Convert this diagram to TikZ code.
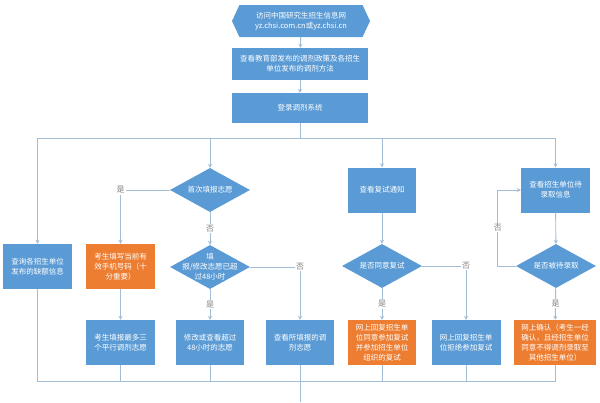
\documentclass[tikz,border=0pt]{standalone}
\usepackage{fontspec}
\setmainfont{Noto Sans CJK SC}
\usetikzlibrary{shapes.geometric,shapes.symbols,positioning,arrows.meta}
\definecolor{boxblue}{HTML}{5B9BD5}
\definecolor{boxorange}{HTML}{ED7D31}
\definecolor{linegrey}{HTML}{A3BDD6}
\tikzset{
  blk/.style = {fill=boxblue, text=white, minimum width=68pt, minimum height=45pt,
                inner sep=1pt, align=center, font=\fontsize{7.5}{10}\selectfont},
  oblk/.style = {blk, fill=boxorange},
  dec/.style = {diamond, fill=boxblue, minimum width=80pt, minimum height=44pt, inner sep=0pt},
  dtxt/.style = {text=white, align=center, font=\fontsize{7.5}{10}\selectfont},
  conn/.style = {draw=linegrey, line width=0.9pt},
  arr/.style = {conn, -{Stealth[length=4pt,width=4pt]}},
  lbl/.style = {fill=white, text=gray, inner sep=1pt, font=\fontsize{8}{9}\selectfont}
}
\begin{document}
\begin{tikzpicture}[x=1pt, y=-1pt]
    \useasboundingbox[fill=white] (0,0) rectangle (600,402);
    % top of the chart
    \node[blk, signal, signal to=west and east, signal pointer angle=130,
          minimum width=138pt, minimum height=32pt] (site) at (301,21)
          {访问中国研究生招生信息网\\yz.chsi.com.cn或yz.chsi.cn};
    \node[blk, minimum width=136pt, minimum height=32pt] (policy) at (300,64)
          {查看教育部发布的调剂政策及各招生\\单位发布的调剂方法};
    \node[blk, minimum width=136pt, minimum height=30pt] (login) at (300,108) {登录调剂系统};
    \coordinate (split) at (300,138);
    % first row
    \node[blk, minimum width=69pt] (query) at (37.5,266.5) {查询各招生单位\\发布的缺额信息};
    \node[dec, label={[dtxt]center:首次填报志愿}] (first) at (210,190) {};
    \node[oblk, minimum width=69pt] (phone) at (120.5,266.5) {考生填写当前有\\效手机号码（十\\分重要）};
    \node[dec, label={[dtxt]center:填\\报/修改志愿已超\\过48小时}] (late) at (210,267) {};
    \node[blk] (notice) at (382,190) {查看复试通知};
    \node[dec, label={[dtxt]center:是否同意复试}] (agree) at (382,266) {};
    \node[blk, minimum width=69pt] (offer) at (555.5,190) {查看招生单位待\\录取信息};
    \node[dec, label={[dtxt]center:是否被待录取}] (admit) at (556,266) {};
    % second row
    \node[blk, minimum width=69pt] (choose) at (120.5,342.5) {考生填报最多三\\个平行调剂志愿};
    \node[blk] (modify) at (210,342.5) {修改或查看超过\\48小时的志愿};
    \node[blk] (viewvol) at (300,342.5) {查看所填报的调\\剂志愿};
    \node[oblk] (accept) at (382,342.5) {网上回复招生单\\位同意参加复试\\并参加招生单位\\组织的复试};
    \node[blk, minimum width=69pt] (reject) at (466,342.5) {网上回复招生单\\位拒绝参加复试};
    \node[oblk, minimum width=82pt] (confirm) at (555,342.5) {网上确认（考生一经\\确认，且经招生单位\\同意不得调剂录取至\\其他招生单位）};
    \coordinate (merge) at (300,381);
    \coordinate (exit) at (300,402);
    % connectors
    \draw[arr] (site) -- (policy);
    \draw[arr] (policy) -- (login);
    \draw[conn] (login) -- (split);
    \draw[arr] (split) -| (query.north);
    \draw[arr] (split) -| (first.north);
    \draw[arr] (split) -| (notice.north);
    \draw[arr] (split) -| (offer.north);
    \draw[arr] (first.west) -| node[lbl, pos=0.5] {是} (phone.north);
    \draw[arr] (phone) -- (choose);
    \draw[arr] (first) -- node[lbl] {否} (late);
    \draw[arr] (late) -- node[lbl] {是} (modify);
    \draw[arr] (late.east) -| node[lbl, pos=0.5] {否} (viewvol.north);
    \draw[arr] (notice) -- (agree);
    \draw[arr] (agree) -- node[lbl] {是} (accept);
    \draw[arr] (agree.east) -| node[lbl, pos=0.5] {否} (reject.north);
    \draw[arr] (offer) -- (admit);
    \draw[arr] (admit) -- node[lbl] {是} (confirm);
    \draw[arr] (admit.west) -- ++(-18,0) |- node[lbl, pos=0.25] {否} (offer.west);
    \foreach \n in {query, choose, modify, viewvol, accept, reject, confirm}
        \draw[conn] (\n.south) |- (merge);
    \draw[conn] (merge) -- (exit);
\end{tikzpicture}
\end{document}
